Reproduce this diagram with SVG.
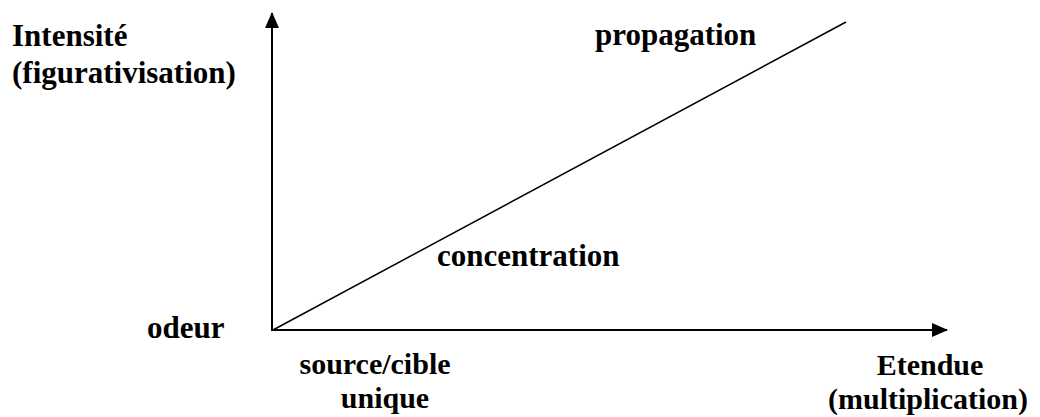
<svg xmlns="http://www.w3.org/2000/svg" width="1040" height="417" viewBox="0 0 1040 417">
<defs>
<style>
text{font-family:"Liberation Serif","Times New Roman",serif;font-weight:bold;font-size:31px;fill:#000}
text.b{font-size:30px}
.ax{stroke:#000;stroke-width:2;fill:none}
.ln{stroke:#000;stroke-width:1.5;fill:none}
</style>
<marker id="ah" viewBox="0 0 16 14" refX="15" refY="7" markerWidth="16" markerHeight="14" markerUnits="userSpaceOnUse" orient="auto">
<path d="M0,0 L16,7 L0,14 Z" fill="#000"/>
</marker>
</defs>
<rect width="1040" height="417" fill="#fff"/>
<g id="connectors">
<line class="ax" x1="272" y1="331" x2="272" y2="13" marker-end="url(#ah)"/>
<line class="ax" x1="272" y1="330" x2="947" y2="330" marker-end="url(#ah)"/>
<line class="ln" x1="273" y1="330" x2="846" y2="22"/>
</g>
<g id="intensite"><text x="12" y="46">Intensité</text><text x="12" y="83">(figurativisation)</text></g>
<g id="propagation"><text x="595" y="45">propagation</text></g>
<g id="concentration"><text x="437" y="266">concentration</text></g>
<g id="odeur"><text x="147" y="338">odeur</text></g>
<g id="source"><text class="b" x="375" y="374" text-anchor="middle">source/cible</text><text class="b" x="385" y="408" text-anchor="middle">unique</text></g>
<g id="etendue"><text class="b" x="930" y="375" text-anchor="middle">Etendue</text><text class="b" x="928" y="409" text-anchor="middle">(multiplication)</text></g>
</svg>
